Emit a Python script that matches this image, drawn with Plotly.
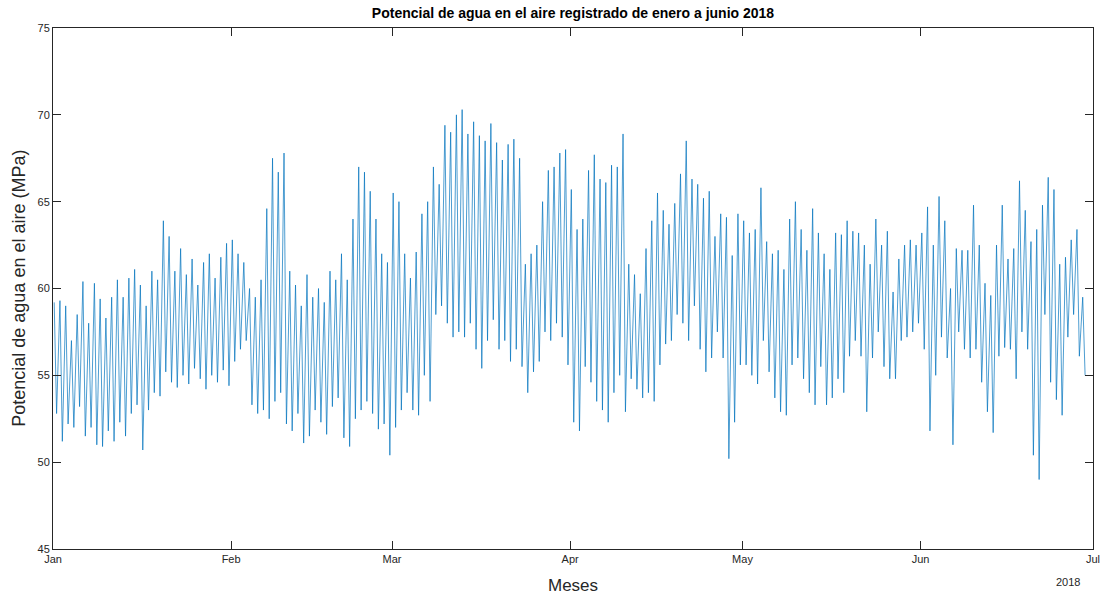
import plotly.graph_objects as go
import pandas as pd

# Daily maximum / minimum values (MPa)
jan_max = [59.2, 59.3, 59.0, 57.0, 58.5, 60.4, 58.0, 60.3, 59.4, 58.3, 59.5, 60.5, 59.5, 60.6, 61.1, 60.2,
           59.0, 61.0, 60.5, 63.9, 63.0, 61.0, 62.3, 60.8, 61.7, 60.2, 61.5, 62.0, 60.6, 61.8, 62.6]
jan_min = [52.8, 51.2, 52.2, 52.0, 53.2, 51.5, 52.0, 51.0, 50.9, 51.8, 51.2, 52.3, 51.5, 52.8, 53.3, 50.7,
           53.0, 54.0, 53.8, 55.2, 54.6, 54.3, 55.0, 54.5, 55.4, 54.8, 54.2, 55.0, 54.6, 55.3, 54.4]
feb_max = [62.8, 62.0, 61.5, 60.0, 59.5, 60.5, 64.6, 67.5, 66.7, 67.8, 61.0, 60.2, 59.0, 60.8, 59.5, 60.0,
           59.2, 61.0, 60.5, 62.0, 60.5, 64.0, 67.0, 66.7, 65.6, 64.0, 62.0, 61.5]
feb_min = [55.8, 56.5, 57.0, 53.3, 52.8, 53.0, 52.5, 53.5, 54.0, 52.2, 51.8, 52.8, 51.1, 51.5, 53.0, 52.3,
           51.6, 53.2, 53.7, 51.4, 50.9, 52.5, 53.0, 53.5, 52.8, 51.9, 52.2, 50.4]
mar_max = [65.5, 65.0, 62.0, 60.6, 62.1, 64.3, 65.0, 67.0, 66.0, 69.4, 69.0, 70.0, 70.3, 68.9, 69.6, 68.8,
           68.5, 69.5, 68.4, 67.4, 68.3, 68.6, 67.5, 61.4, 62.0, 62.5, 65.0, 66.8, 67.0, 67.8, 68.0]
mar_min = [52.0, 53.0, 54.0, 53.0, 52.7, 55.0, 53.5, 58.5, 59.0, 58.0, 57.2, 57.5, 57.2, 58.0, 56.5, 55.4,
           57.0, 58.2, 56.5, 57.0, 55.8, 56.5, 55.5, 54.0, 55.2, 55.8, 57.5, 57.0, 58.0, 57.2, 55.6]
apr_max = [65.7, 63.4, 64.0, 66.8, 67.7, 66.3, 66.1, 67.1, 67.0, 68.9, 61.4, 60.8, 59.7, 62.3, 63.9, 65.5,
           64.5, 63.7, 64.9, 66.6, 68.5, 66.3, 66.0, 65.2, 65.6, 63.0, 64.3, 64.1, 61.9, 64.3]
apr_min = [52.3, 51.8, 55.5, 54.6, 53.5, 53.0, 52.3, 54.0, 55.0, 52.9, 54.8, 54.2, 53.7, 54.0, 53.5, 55.6,
           56.8, 57.0, 58.5, 58.0, 57.0, 59.0, 56.5, 55.2, 56.0, 57.5, 56.0, 50.2, 52.3, 55.6]
may_max = [63.9, 63.2, 63.4, 65.8, 62.7, 62.0, 62.2, 61.1, 64.0, 65.0, 63.4, 62.2, 64.6, 63.2, 62.0, 61.1,
           63.2, 63.1, 63.9, 63.3, 63.2, 62.5, 61.4, 64.0, 62.5, 63.3, 59.8, 61.7, 62.5, 62.8, 62.5]
may_min = [55.6, 55.0, 54.5, 57.0, 55.2, 53.7, 52.9, 52.7, 55.6, 56.0, 54.8, 54.0, 53.3, 55.5, 53.3, 53.7,
           54.8, 54.0, 56.1, 57.0, 56.1, 52.9, 56.0, 57.5, 55.5, 54.8, 54.8, 57.0, 57.2, 57.5, 58.0]
jun_max = [63.2, 64.7, 62.5, 65.3, 63.9, 60.0, 62.3, 62.2, 62.2, 64.8, 62.5, 60.3, 59.6, 62.5, 64.8, 61.7,
           62.3, 66.2, 64.5, 62.7, 63.4, 64.8, 66.4, 65.7, 61.4, 61.8, 62.8, 63.4, 59.5]
jun_min = [56.5, 51.8, 55.0, 57.2, 56.0, 51.0, 57.5, 56.5, 56.0, 56.5, 54.6, 52.9, 51.7, 56.1, 56.6, 56.5,
           54.8, 57.5, 56.5, 50.4, 49.0, 58.5, 54.6, 53.6, 52.7, 57.2, 58.5, 56.1, 55.0]

month_starts = ["2018-01-01", "2018-02-01", "2018-03-01", "2018-04-01", "2018-05-01", "2018-06-01", "2018-07-01"]
month_labels = ["Jan", "Feb", "Mar", "Apr", "May", "Jun", "Jul"]
y_ticks = [45, 50, 55, 60, 65, 70, 75]

daily_max = jan_max + feb_max + mar_max + apr_max + may_max + jun_max
daily_min = jan_min + feb_min + mar_min + apr_min + may_min + jun_min
days = pd.date_range("2018-01-01", periods=len(daily_max), freq="D")

xs, ys = [], []
for d, hi, lo in zip(days, daily_max, daily_min):
    xs.append(d + pd.Timedelta(hours=5))
    ys.append(hi)
    xs.append(d + pd.Timedelta(hours=15))
    ys.append(lo)

axis_color = "#262626"
font_family = "Liberation Sans, Arial, sans-serif"

fig = go.Figure()
fig.add_trace(go.Scatter(x=xs, y=ys, mode="lines",
                         line=dict(color="#0072BD", width=0.7), showlegend=False,
                         hoverinfo="skip"))

fig.update_layout(
    width=1110, height=596,
    margin=dict(l=53, r=10, t=28, b=47),
    paper_bgcolor="white", plot_bgcolor="white",
    font=dict(family=font_family, color=axis_color, size=11),
    title=dict(text="<b>Potencial de agua en el aire registrado de enero a junio 2018</b>",
               x=0.5, xref="paper", xanchor="center", y=1 - 13 / 596, yref="container",
               yanchor="middle", font=dict(size=14, color="black", family=font_family)),
    xaxis=dict(
        type="date", range=["2018-01-01", "2018-07-01"],
        tickvals=month_starts, ticktext=month_labels,
        showgrid=False, zeroline=False, showline=True, linecolor=axis_color, linewidth=1,
        mirror="ticks", ticks="inside", ticklen=8, tickcolor=axis_color,
        tickfont=dict(size=11, color=axis_color),
    ),
    yaxis=dict(
        range=[45, 75], tickvals=y_ticks,
        showgrid=False, zeroline=False, showline=True, linecolor=axis_color, linewidth=1,
        mirror="ticks", ticks="inside", ticklen=8, tickcolor=axis_color,
        tickfont=dict(size=11, color=axis_color),
    ),
    annotations=[
        dict(text="Meses", x=0.5, y=-(585 - 549) / 521, xref="paper", yref="paper",
             xanchor="center", yanchor="middle", showarrow=False,
             font=dict(size=17, color=axis_color, family=font_family)),
        dict(text="Potencial de agua en el aire (MPa)", x=-(53 - 18) / 1047, y=0.5,
             xref="paper", yref="paper", xanchor="center", yanchor="middle",
             textangle=-90, showarrow=False,
             font=dict(size=18, color=axis_color, family=font_family)),
        dict(text="2018", x=(1075 - 53) / 1047, y=-(582 - 549) / 521, xref="paper", yref="paper",
             xanchor="center", yanchor="middle", showarrow=False,
             font=dict(size=11, color=axis_color, family=font_family)),
    ],
)

fig.write_html("out.html")
